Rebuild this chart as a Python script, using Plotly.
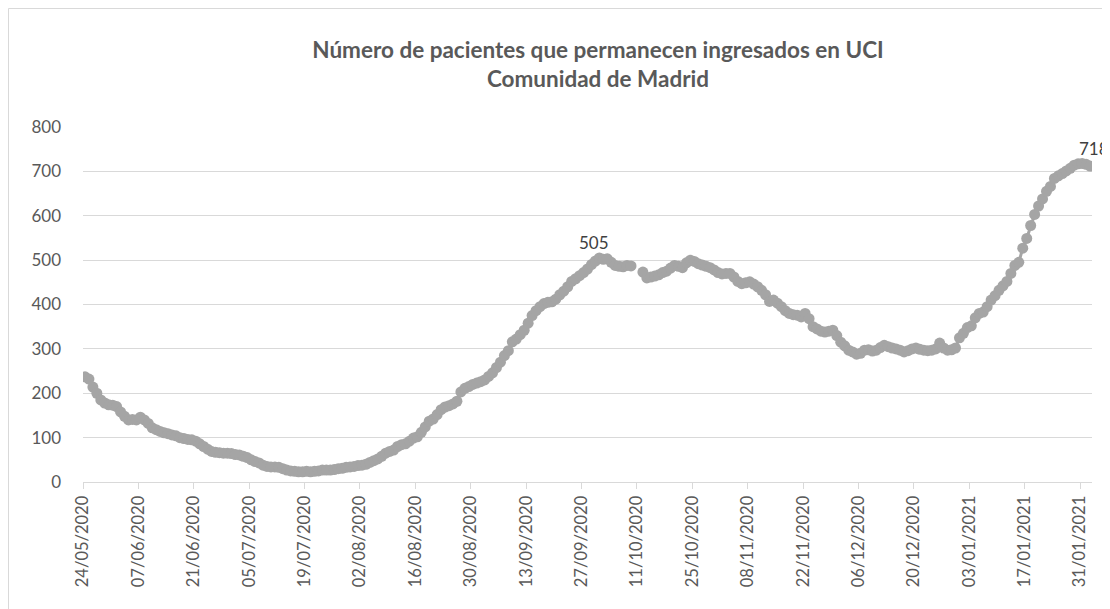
import pandas as pd
import plotly.graph_objects as go

start_date = "2020-05-24"
pacientes_uci = [
    237, 232, 214, 200, 185, 178, 174,
    173, 170, 158, 148, 140, 141, 140,
    146, 140, 132, 122, 118, 114, 111,
    109, 106, 104, 100, 98, 96, 95,
    92, 86, 80, 74, 69, 67, 66,
    65, 65, 64, 62, 61, 58, 55,
    50, 46, 43, 38, 35, 34, 34,
    33, 30, 27, 25, 24, 23, 23,
    24, 23, 24, 25, 27, 27, 27,
    28, 30, 31, 33, 34, 35, 37,
    38, 40, 44, 48, 52, 58, 65,
    69, 72, 80, 84, 86, 92, 99,
    102, 112, 124, 137, 142, 152, 163,
    169, 172, 176, 182, 203, 211, 215,
    220, 223, 226, 230, 238, 246, 258,
    270, 285, 296, 316, 322, 332, 342,
    358, 375, 386, 395, 402, 405, 406,
    412, 422, 430, 440, 452, 458, 465,
    472, 480, 490, 498, 505, 502, 503,
    495, 488, 486, 485, 488, 487, None,
    None, 473, 460, 462, 464, 467, 472,
    475, 482, 488, 486, 483, 494, 500,
    497, 492, 489, 486, 483, 478, 472,
    469, 470, 470, 462, 452, 447, 449,
    451, 446, 440, 432, 422, 407, 410,
    403, 395, 386, 380, 377, 376, 372,
    380, 368, 350, 345, 340, 338, 340,
    342, 330, 315, 307, 297, 293, 288,
    290, 297, 298, 295, 297, 303, 308,
    305, 302, 300, 297, 293, 296, 300,
    302, 299, 297, 296, 297, 300, 313,
    302, 297, 298, 302, 325, 335, 348,
    352, 370, 380, 383, 395, 410, 420,
    432, 442, 452, 470, 488, 495, 527,
    549, 578, 603, 622, 638, 655, 666,
    684, 690, 695, 701, 707, 714, 717,
    718, 716, 712,
]
tick_dates = ["24/05/2020", "07/06/2020", "21/06/2020", "05/07/2020", "19/07/2020",
              "02/08/2020", "16/08/2020", "30/08/2020", "13/09/2020", "27/09/2020",
              "11/10/2020", "25/10/2020", "08/11/2020", "22/11/2020", "06/12/2020",
              "20/12/2020", "03/01/2021", "17/01/2021", "31/01/2021"]
labelled_values = [505, 718]

# each day is drawn in the middle of its slot (Excel "between tick marks")
dates = pd.date_range(start_date + " 12:00", periods=len(pacientes_uci), freq="D")
tickvals = [pd.to_datetime(t, format="%d/%m/%Y") for t in tick_dates]

FONT = "Lato"
GREY = "#595959"
GRID = "#D9D9D9"
MARK = "#A5A5A5"

# the page adds an 8px body margin, so the figure is 8px smaller
W, H = 1102, 601
L, R, T, B = 75, 18, 119, 127
PW, PH = W - L - R, H - T - B

fig = go.Figure()
fig.add_trace(go.Scatter(
    x=dates, y=pacientes_uci, mode="lines+markers",
    line=dict(color=MARK, width=3),
    marker=dict(color=MARK, size=11),
    connectgaps=False, showlegend=False, hoverinfo="x+y",
))

for v in labelled_values:
    idx = pacientes_uci.index(v)
    fig.add_annotation(x=dates[idx], y=v, text=str(v), showarrow=False,
                       yshift=15, xshift=(12 if v == 718 else -5),
                       font=dict(family=FONT, size=17, color="#404040"))

x_start = pd.Timestamp(start_date)
x_end = x_start + pd.Timedelta(days=len(pacientes_uci))

fig.update_layout(
    width=W, height=H,
    paper_bgcolor="white", plot_bgcolor="white",
    margin=dict(l=L, r=R, t=T, b=B),
    title=dict(text="<b>Número de pacientes que permanecen ingresados en UCI<br>Comunidad de Madrid</b>",
               x=590 / W, xanchor="center", y=1 - 50 / H, yanchor="top",
               font=dict(family=FONT, size=22.5, color=GREY)),
    font=dict(family=FONT, color=GREY),
    xaxis=dict(type="date", range=[x_start, x_end], tickvals=tickvals, ticktext=tick_dates,
               tickangle=-90, tickfont=dict(family=FONT, size=16.5, color=GREY),
               showgrid=False, showline=True, linecolor=GRID, linewidth=1.3,
               ticks="outside", ticklen=6, tickcolor=GRID, tickwidth=1.3, zeroline=False),
    yaxis=dict(range=[0, 800], dtick=100, tickfont=dict(family=FONT, size=17, color=GREY),
               showgrid=True, gridcolor=GRID, gridwidth=1.3, zeroline=False,
               ticks="", ticklabelstandoff=21, showline=False),
    shapes=[dict(type="rect", xref="paper", yref="paper",
                 x0=(0.5 - L) / PW, x1=(W + 20 - L) / PW,
                 y0=-(B + 20) / PH, y1=1 + (T - 0.5) / PH,
                 line=dict(color=GRID, width=1), fillcolor="rgba(0,0,0,0)", layer="below")],
)

fig.write_html("out.html")
